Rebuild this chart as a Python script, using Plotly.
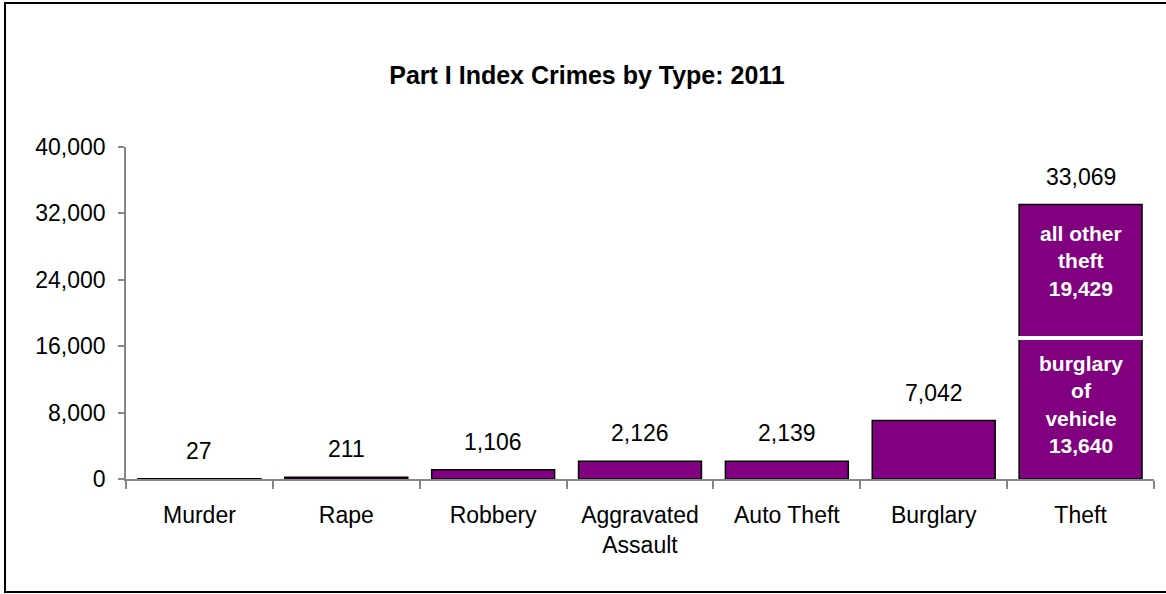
import plotly.graph_objects as go

# ---- data ----
categories = ["Murder", "Rape", "Robbery", "Aggravated<br>Assault", "Auto Theft", "Burglary", "Theft"]
totals = [27, 211, 1106, 2126, 2139, 7042, 33069]
theft_part_names = ["burglary<br>of<br>vehicle", "all other<br>theft"]
theft_part_values = [13640, 19429]
y_ticks = [0, 8000, 16000, 24000, 32000, 40000]
title_text = "<b>Part I Index Crimes by Type: 2011</b>"

# ---- style ----
PURPLE = "#800080"
AXIS = "#868686"
FONT = "Liberation Sans, Arial, sans-serif"
W, H = 1166, 594
ML, MR, MT, MB = 126, 12, 147, 115
pw, ph = W - ML - MR, H - MT - MB

fig = go.Figure()
fig.add_trace(go.Bar(
    x=categories, y=totals,
    marker=dict(color=PURPLE, line=dict(color="black", width=1.5)),
    hoverinfo="x+y", showlegend=False,
))

annotations = []
for c, v in zip(categories, totals):
    annotations.append(dict(
        x=c, y=v, xref="x", yref="y", text=f"{v:,}", showarrow=False,
        yanchor="bottom", yshift=13, font=dict(family=FONT, size=23, color="black"),
    ))

# labels inside the Theft bar (positions as fractions of the bar height, as in the picture)
theft_total = totals[-1]
split_frac = 0.514
label_fracs = [0.27, 0.795]
for name, val, fr in zip(theft_part_names, theft_part_values, label_fracs):
    annotations.append(dict(
        x=categories[-1], y=theft_total * fr, xref="x", yref="y",
        text=f"<b>{name}<br>{val:,}</b>", showarrow=False,
        font=dict(family=FONT, size=21, color="white"), align="center",
    ))

shapes = [
    # white separator across Theft bar
    dict(type="line", xref="x", yref="y",
         x0=len(categories) - 1 - 0.425, x1=len(categories) - 1 + 0.425,
         y0=theft_total * split_frac, y1=theft_total * split_frac,
         line=dict(color="white", width=4), layer="above"),
    # outer frame
    dict(type="rect", xref="paper", yref="paper",
         x0=(5 - ML) / pw, x1=(W + 10 - ML) / pw,
         y0=(MT + ph - 592) / ph, y1=(MT + ph - 3) / ph,
         line=dict(color="black", width=2), fillcolor="rgba(0,0,0,0)"),
]

fig.update_layout(
    width=W, height=H,
    margin=dict(l=ML, r=MR, t=MT, b=MB),
    paper_bgcolor="white", plot_bgcolor="white",
    bargap=0.163,
    font=dict(family=FONT, size=23, color="black"),
    title=dict(text=title_text, x=587 / W, xref="container", xanchor="center",
               y=1 - 75 / H, yref="container", yanchor="middle",
               font=dict(family=FONT, size=25, color="black")),
    annotations=annotations,
    shapes=shapes,
    xaxis=dict(
        type="category", showline=True, linecolor=AXIS, linewidth=1.5,
        ticks="outside", tickson="boundaries", ticklen=8, tickcolor=AXIS, tickwidth=1.5,
        ticklabelstandoff=15, showgrid=False, zeroline=False, layer="above traces",
        tickfont=dict(family=FONT, size=23, color="black"),
    ),
    yaxis=dict(
        range=[0, 40000], tickvals=y_ticks, tickformat=",", showline=True,
        linecolor=AXIS, linewidth=1.5, ticks="outside", ticklen=6, tickcolor=AXIS,
        tickwidth=1.5, showgrid=False, zeroline=False, ticklabelstandoff=8,
        tickfont=dict(family=FONT, size=23, color="black"),
    ),
)

fig.write_html("out.html", config={"displayModeBar": False},
               post_script="document.body.style.margin='0';")
